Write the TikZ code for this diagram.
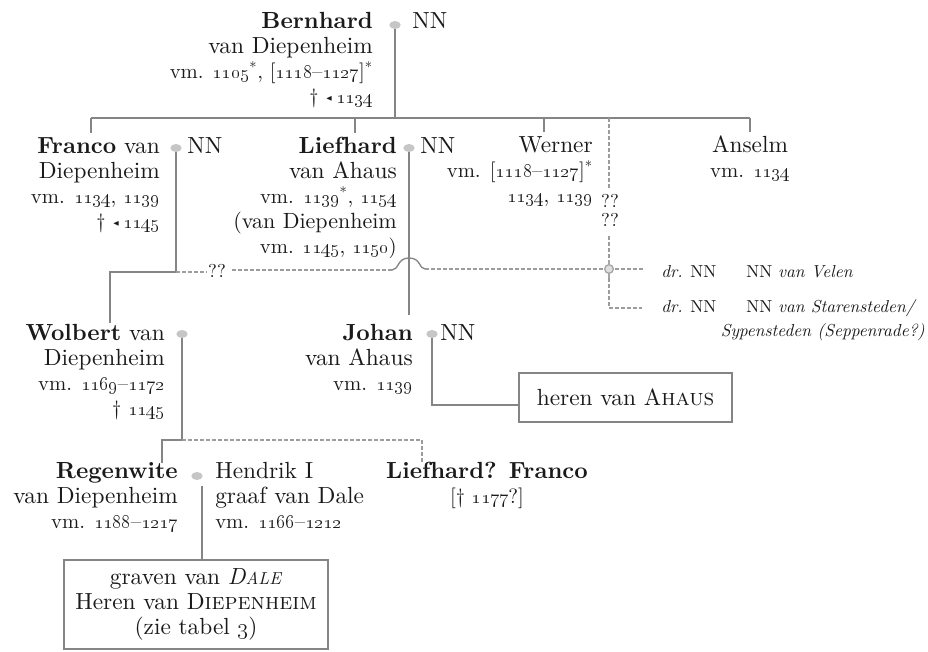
\documentclass[tikz,border=0pt]{standalone}
\usepackage{amssymb}
\usepackage{fontspec}
\setmainfont{lmroman10}[Extension=.otf, UprightFont=*-regular, BoldFont=*-bold, ItalicFont=*-italic, BoldItalicFont=*-bolditalic, SmallCapsFont=lmromancaps10-regular]
\usetikzlibrary{shapes.geometric}
\definecolor{ink}{HTML}{1A1A1A}
\definecolor{linegray}{HTML}{858585}
\definecolor{dotgray}{HTML}{9C9C9C}
\newcommand\onum[1]{{\fontencoding{TS1}\fontfamily{lmr}\selectfont #1}}
\newcommand\befr{\raisebox{0.35ex}{\tiny$\blacktriangleleft$}\,}
\newcommand\dts{\fontsize{15.5}{18.75}\selectfont}
\newcommand\sml{\fontsize{13}{16}\selectfont}
\newcommand\fsc[1]{{\fontsize{13}{16}\selectfont #1}}
\begin{document}
\begin{tikzpicture}[x=0.75pt,y=-0.75pt,
  font=\fontsize{17.5}{18.75}\selectfont,
  every node/.style={inner sep=0pt, text=ink},
  person/.style={align=right, anchor=base east},
  spouse/.style={anchor=base west},
  centred/.style={align=center, anchor=base},
  marr/.style={ellipse, fill=gray!45, minimum width=8.5pt, minimum height=6pt},
  ln/.style={draw=linegray, line width=1.6pt},
  dl/.style={draw=dotgray, line width=1.6pt, dash pattern=on 3pt off 1.5pt},
  qq/.style={anchor=base, font=\fontsize{14}{16}\selectfont},
  famBox/.style={draw=linegray, line width=1.6pt, align=center}]
\useasboundingbox (0,0) rectangle (928,652);
\fill[white] (0,0) rectangle (928,652);

% Bernhard
\node[person] (bern) at (373,104) {\textbf{Bernhard}\\van Diepenheim\\{\dts vm. \onum{1105}\textsuperscript{*}, [\onum{1118}--\onum{1127}]\textsuperscript{*}}\\{\dts † \befr\onum{1134}}};
\node[marr] (bm) at (395,25) {};
\node[spouse] (bnn) at (412,29) {NN};
\coordinate (bbar) at (395,118);
\coordinate (barL) at (91,118);
\coordinate (barR) at (750,118);
\draw[ln] (bm) -- (bbar);
\draw[ln] (barL) -- (barR);

% generation 2
\node[person] (franco) at (160,229) {\textbf{Franco} van\\Diepenheim\\{\dts vm. \onum{1134}, \onum{1139}}\\{\dts † \befr\onum{1145}}};
\node[marr] (fm) at (176,148) {};
\node[spouse] (fnn) at (187,154) {NN};
\coordinate (ftick) at (91,133);
\draw[ln] (barL) -- (ftick);

\node[person] (lief) at (397,254) {\textbf{Liefhard}\\van Ahaus\\{\dts vm. \onum{1139}\textsuperscript{*}, \onum{1154}}\\{\fontsize{16.5}{18.75}\selectfont (van Diepenheim}\\{\dts vm. \onum{1145}, \onum{1150})}};
\node[marr] (lm) at (409,148) {};
\node[spouse] (lnn) at (420,154) {NN};
\coordinate (ltickT) at (355,118);
\coordinate (ltickB) at (355,133);
\draw[ln] (ltickT) -- (ltickB);

\node[person] (werner) at (593,203) {Werner\\{\dts vm. [\onum{1118}--\onum{1127}]\textsuperscript{*}}\\{\dts \onum{1134}, \onum{1139}}};
\coordinate (wtickT) at (544,118);
\coordinate (wtickB) at (544,132);
\draw[ln] (wtickT) -- (wtickB);

\node[centred] (anselm) at (750,178) {Anselm\\{\dts vm. \onum{1134}}};
\coordinate (atick) at (750,132);
\draw[ln] (barR) -- (atick);

% uncertain line on the right
\coordinate (dtop) at (609,118);
\coordinate (dq1) at (609,189);
\node[qq] (qa) at (610,208) {??};
\node[qq] (qb) at (610,227) {??};
\coordinate (dq2) at (609,236);
\coordinate (djun) at (609,269);
\coordinate (dcorner) at (609,308);
\coordinate (dend1) at (645,269);
\coordinate (dend2) at (642,308);
\draw[dl] (dtop) -- (dq1);
\draw[dl] (dq2) -- (dcorner) -- (dend2);
\draw[dl] (djun) -- (dend1);

% Franco descent
\coordinate (fj) at (176,272);
\coordinate (fcorner) at (110,272);
\coordinate (wtop) at (110,323);
\draw[ln] (fm) -- (fj) -- (fcorner) -- (wtop);
\node[qq] (fq) at (217,277) {??};
\coordinate (fqL) at (207,272);
\coordinate (fqR) at (232,270);
\coordinate (humpL) at (392,270);
\coordinate (humpT) at (409,258);
\coordinate (humpR) at (425,269);
\draw[dl] (fj) -- (fqL);
\draw[dl] (fqR) -- (humpL);
\draw[draw=linegray, line width=1pt] (humpL) .. controls (399,270) and (397,258) .. (humpT) .. controls (421,258) and (419,269) .. (humpR);
\draw[dl] (humpR) -- (djun);
\node[circle, draw=gray!70, fill=gray!25, line width=1pt, minimum size=6.5pt] (jx) at (djun) {};
\draw[line width=1.6pt, draw=gray!70] (jx.north) -- ++(0,-4) (jx.south) -- ++(0,4);

% Liefhard descent
\coordinate (jtop) at (409,315);
\draw[ln] (lm) -- (jtop);

% Wolbert
\node[person] (wolb) at (165,415) {\textbf{Wolbert} van\\Diepenheim\\{\dts vm. \onum{1169}--\onum{1172}}\\{\dts † \onum{1145}}};
\node[marr] (wm) at (182,334) {};
\coordinate (wj) at (182,440);
\coordinate (wcorner) at (162,440);
\coordinate (rtop) at (162,463);
\coordinate (wdR) at (422,440);
\coordinate (wdB) at (422,462);
\draw[ln] (wm) -- (wj) -- (wcorner) -- (rtop);
\draw[dl] (wj) -- (wdR) -- (wdB);

% Johan
\node[person] (johan) at (413,390) {\textbf{Johan}\\van Ahaus\\{\dts vm. \onum{1139}}};
\node[marr] (jm) at (432,334) {};
\node[spouse] (jnn) at (440,340) {NN};
\node[famBox, minimum width=159.75pt, minimum height=36.75pt, anchor=north west] (ahaus) at (518,372) {heren van A\textsc{haus}};
\coordinate (jcorner) at (432,405);
\draw[ln] (jm) -- (jcorner) -- (jcorner -| ahaus.west);

% Regenwite
\node[person] (regen) at (178,528) {\textbf{Regenwite}\\van Diepenheim\\{\dts vm. \onum{1188}--\onum{1217}}};
\node[marr] (rm) at (197,476) {};
\node[spouse, align=left] (hendrik) at (215,528) {Hendrik I\\graaf van Dale\\{\dts vm. \onum{1166}--\onum{1212}}};
\node[centred] (lf) at (487,503) {\textbf{Liefhard? Franco}\\\relax{\dts [† \onum{1177}?]}};

\node[famBox, minimum width=198pt, minimum height=66.75pt, anchor=north west] (dale) at (63,559) {graven van \textit{D\fsc{ALE}}\\Heren van D\textsc{iepenheim}\\(zie tabel \onum{3})};
\coordinate (rline) at (202,486);
\draw[ln] (rline) -- (rline |- dale.north);

% right side
\node[spouse, font=\sml] (dr1) at (661,277) {\textit{dr.} NN};
\node[spouse, font=\sml] (velen) at (746,277) {NN \textit{van Velen}};
\node[spouse, font=\sml] (dr2) at (661,313) {\textit{dr.} NN};
\node[spouse, font=\sml] (stare) at (746,313) {NN \textit{van Starensteden/}};
\node[anchor=base east, font=\sml] (sype) at (925,336) {\textit{Sypensteden (Seppenrade?)}};
\end{tikzpicture}
\end{document}
